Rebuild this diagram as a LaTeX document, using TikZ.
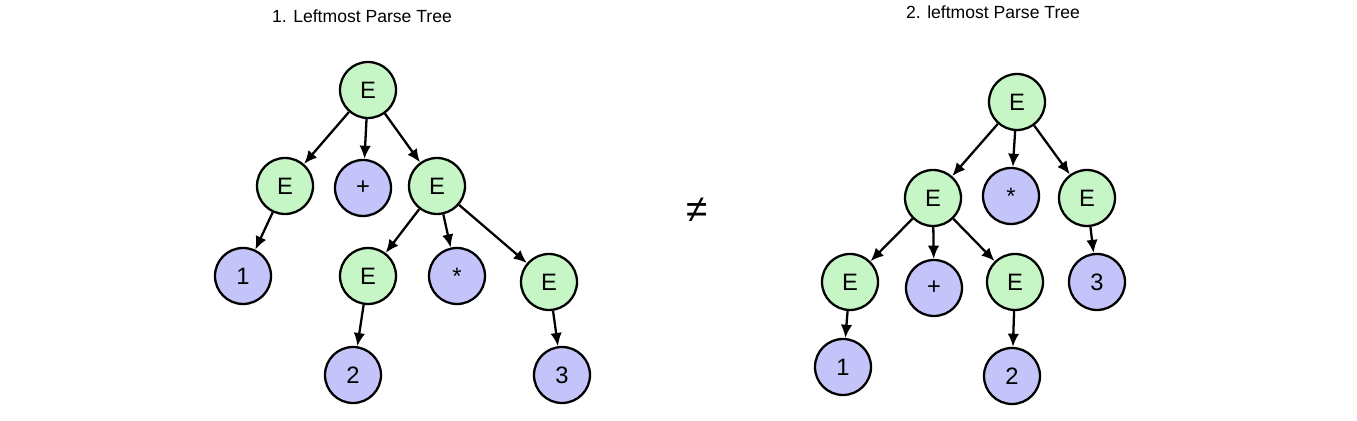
\documentclass[tikz,border=0pt]{standalone}
\usepackage{fontspec}
\setmainfont{Liberation Sans}
\usetikzlibrary{arrows.meta}
\definecolor{termBlue}{RGB}{196,196,250}
\definecolor{nontermGreen}{RGB}{198,246,198}

\begin{document}
\begin{tikzpicture}[x=0.02cm, y=-0.02cm,
    nonterm/.style={circle, draw, line width=1.3pt, fill=nontermGreen, minimum size=1.12cm, inner sep=0pt, font=\fontsize{13.5}{15}\selectfont},
    term/.style={nonterm, fill=termBlue},
    edge/.style={-{Latex[length=7.5pt,width=6.5pt]}, line width=1.3pt},
    title/.style={font=\fontsize{10}{12}\selectfont}]
    \useasboundingbox (0,0) rectangle (1357,421);

    % first tree
    \node[title] (titleOne) at (362, 16) {1. Leftmost Parse Tree};
    \node[nonterm] (rootOne) at (368, 90) {E};
    \node[nonterm] (leftOne) at (285, 186) {E};
    \node[term] (plusOne) at (363, 188) {+};
    \node[nonterm] (rightOne) at (437, 186) {E};
    \node[term] (oneOne) at (243, 276) {1};
    \node[nonterm] (midLeftOne) at (368, 276) {E};
    \node[term] (timesOne) at (457, 276) {*};
    \node[nonterm] (midRightOne) at (549, 282) {E};
    \node[term] (twoOne) at (353, 375) {2};
    \node[term] (threeOne) at (562, 375) {3};

    \draw[edge] (rootOne) -- (leftOne);
    \draw[edge] (rootOne) -- (plusOne);
    \draw[edge] (rootOne) -- (rightOne);
    \draw[edge] (leftOne) -- (oneOne);
    \draw[edge] (rightOne) -- (midLeftOne);
    \draw[edge] (rightOne) -- (timesOne);
    \draw[edge] (rightOne) -- (midRightOne);
    \draw[edge] (midLeftOne) -- (twoOne);
    \draw[edge] (midRightOne) -- (threeOne);

    \node[font=\fontsize{22}{24}\selectfont] (notEqual) at (697, 210) {≠};

    % second tree
    \node[title] (titleTwo) at (993, 12) {2. leftmost Parse Tree};
    \node[nonterm] (rootTwo) at (1017, 102) {E};
    \node[nonterm] (leftTwo) at (933, 198) {E};
    \node[term] (timesTwo) at (1011, 196) {*};
    \node[nonterm] (rightTwo) at (1087, 198) {E};
    \node[nonterm] (midLeftTwo) at (850, 282) {E};
    \node[term] (plusTwo) at (934, 288) {+};
    \node[nonterm] (midRightTwo) at (1015, 282) {E};
    \node[term] (threeTwo) at (1097, 282) {3};
    \node[term] (oneTwo) at (843, 367) {1};
    \node[term] (twoTwo) at (1012, 376) {2};

    \draw[edge] (rootTwo) -- (leftTwo);
    \draw[edge] (rootTwo) -- (timesTwo);
    \draw[edge] (rootTwo) -- (rightTwo);
    \draw[edge] (leftTwo) -- (midLeftTwo);
    \draw[edge] (leftTwo) -- (plusTwo);
    \draw[edge] (leftTwo) -- (midRightTwo);
    \draw[edge] (rightTwo) -- (threeTwo);
    \draw[edge] (midLeftTwo) -- (oneTwo);
    \draw[edge] (midRightTwo) -- (twoTwo);
\end{tikzpicture}
\end{document}
